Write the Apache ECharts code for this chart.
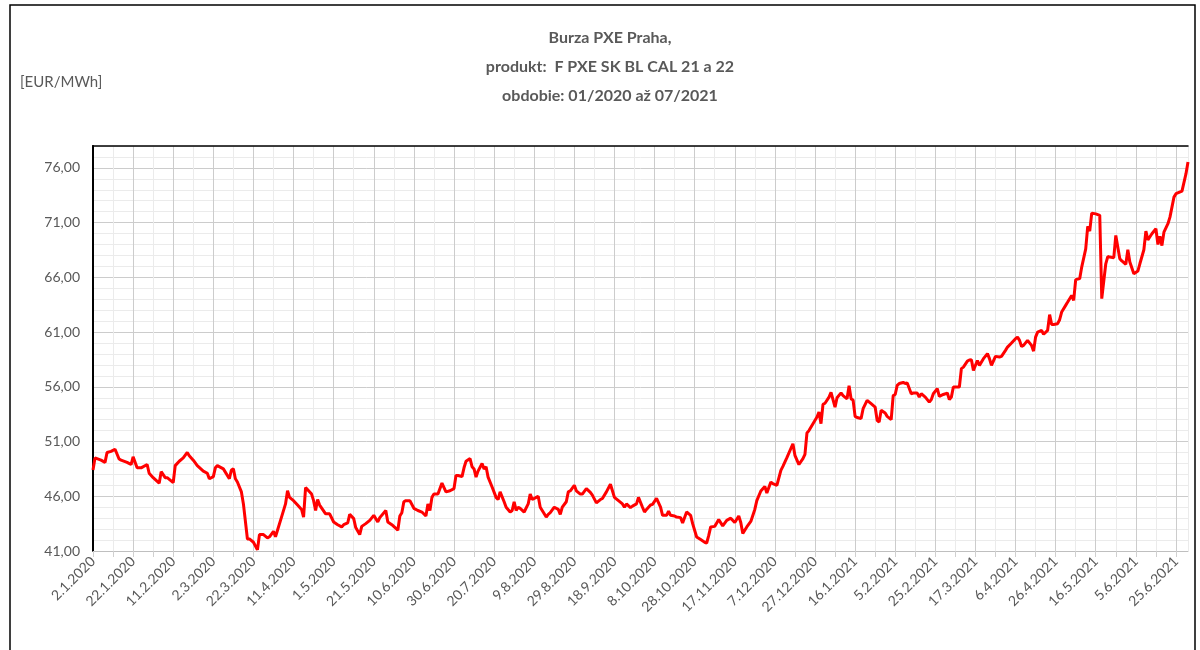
<!DOCTYPE html>
<html>
<head>
<meta charset="utf-8">
<script src="https://cdn.jsdelivr.net/npm/echarts@6/dist/echarts.min.js"></script>
<style>
html,body{margin:0;padding:0;background:#fff;}
#c{width:1200px;height:650px;}
</style>
</head>
<body>
<div id="c"></div>
<script>
// Start date of the x axis (day 0)
const START_DATE = '2020-01-02';
// Trading days, as days since START_DATE
const days = [0,1,4,6,7,9,11,13,14,17,19,20,22,24,27,28,30,33,34,36,37,40,41,43,45,47,48,50,52,55,57,58,60,61,62,65,68,69,70,71,72,74,75,77,78,80,82,83,85,87,88,90,91,92,94,96,97,98,100,102,104,105,106,109,110,111,112,113,116,118,120,122,124,125,127,128,130,131,133,134,136,138,140,142,143,146,147,149,152,153,154,155,156,158,160,162,164,166,167,168,169,170,172,174,176,178,180,181,182,184,185,186,188,189,190,191,192,194,195,196,197,199,201,202,203,205,206,208,209,210,211,212,213,215,217,218,219,221,222,223,224,226,227,228,230,232,233,234,236,237,238,240,241,243,244,246,248,249,251,253,254,256,258,259,260,262,264,265,266,268,269,271,272,274,275,276,278,279,281,283,284,286,287,288,290,291,293,294,296,298,299,301,303,305,306,307,308,310,311,312,314,316,318,320,322,323,324,326,328,330,331,333,335,336,338,339,341,343,344,346,349,350,352,354,355,356,357,359,361,362,363,364,365,367,368,370,371,373,374,376,377,378,379,380,381,383,384,386,388,390,391,392,393,395,396,398,399,400,401,402,404,405,406,408,409,411,412,413,415,417,418,419,421,422,424,426,427,428,429,431,432,433,434,436,437,438,439,441,442,444,446,447,448,450,452,453,455,456,458,460,461,462,463,464,466,468,469,470,471,473,474,476,477,478,479,481,482,483,485,486,488,489,490,492,493,495,496,497,498,500,502,503,505,506,507,509,510,512,513,515,516,517,519,521,522,524,525,526,528,530,531,532,533,534,536,537,539,540,543,545,546];
// Price F PXE SK BL CAL [EUR/MWh]
const prices = [48.4,49.5,49.3,49.1,50.0,50.1,50.3,49.4,49.3,49.1,48.9,49.6,48.6,48.6,48.9,48.1,47.7,47.2,48.25,47.7,47.7,47.25,48.8,49.2,49.5,50.0,49.7,49.3,48.8,48.3,48.1,47.6,47.8,48.6,48.8,48.5,47.6,48.4,48.5,47.6,47.3,46.4,45.3,42.1,42.1,41.8,41.1,42.5,42.5,42.2,42.3,42.8,42.3,42.9,44.1,45.3,46.5,45.9,45.6,45.2,44.8,44.1,46.8,46.2,45.6,44.7,45.7,45.2,44.4,44.4,43.65,43.4,43.2,43.4,43.56,44.35,43.96,43.14,42.5,43.25,43.5,43.8,44.26,43.65,44.05,44.7,43.65,43.4,42.9,44.2,44.5,45.5,45.6,45.6,44.9,44.7,44.56,44.2,45.3,44.7,45.9,46.2,46.2,47.2,46.4,46.5,46.7,47.9,47.9,47.8,48.6,49.2,49.44,48.7,48.5,47.75,48.3,49.0,48.5,48.7,47.75,46.85,45.9,45.7,46.4,45.5,45.0,44.56,44.7,45.5,44.7,45.0,44.9,44.56,45.3,46.2,45.7,45.9,46.0,45.0,44.7,44.1,44.35,44.5,45.0,44.8,44.35,45.0,45.5,46.4,46.5,47.0,46.5,46.2,46.2,46.7,46.35,46.1,45.4,45.7,45.8,46.4,47.1,46.5,45.9,45.6,45.3,45.0,45.3,44.96,45.1,45.3,45.9,45.0,44.56,44.8,45.2,45.26,45.8,45.0,44.26,44.26,44.65,44.26,44.2,44.1,44.05,43.56,44.56,44.26,43.5,42.28,42.04,41.8,41.73,42.4,43.2,43.25,43.56,43.87,43.3,43.8,44.0,43.6,44.2,43.6,42.6,43.2,43.7,44.8,45.6,46.48,46.9,46.3,47.3,47.15,47.0,48.37,48.73,49.53,50.8,49.74,48.9,49.44,49.83,51.78,52.0,52.63,53.24,53.7,52.63,54.4,54.5,55.06,55.5,54.15,55.0,55.45,55.2,54.9,56.1,54.9,54.8,53.3,53.2,53.1,54.0,54.76,54.46,54.15,52.94,52.78,53.85,53.6,53.3,53.0,55.2,55.3,56.13,56.3,56.4,56.3,56.35,55.37,55.43,55.43,55.06,55.37,55.06,54.6,54.83,55.37,55.83,55.13,55.3,55.43,54.83,55.06,55.98,55.98,55.98,57.66,57.8,58.35,58.45,58.48,57.5,58.4,57.96,58.57,59.03,58.57,57.96,58.78,58.72,58.78,59.33,59.63,60.0,60.4,60.54,60.24,59.69,59.78,60.24,59.78,59.26,60.54,61.0,61.15,60.8,61.15,62.6,61.7,61.7,61.77,62.13,62.83,63.44,63.74,64.35,63.9,65.79,65.88,66.94,68.6,70.66,70.22,71.87,71.8,71.66,64.05,67.24,67.9,67.85,67.8,69.83,67.7,67.5,67.2,68.53,67.4,66.33,66.57,67.24,68.52,70.22,69.43,69.98,70.44,69.0,69.74,68.9,70.13,70.9,71.5,73.33,73.64,73.88,75.47,76.53];

const titleLines = ['Burza PXE Praha,', 'produkt:  F PXE SK BL CAL 21 a 22', 'obdobie: 01/2020 až 07/2021'];
const unitLabel = '[EUR/MWh]';
const yMin = 41, yMax = 78, yMajor = 5;
const xMaxDay = 546, xMajorDays = 20;

const startMs = Date.parse(START_DATE + 'T00:00:00Z');
function dayToLabel(v) {
  const d = new Date(startMs + v * 86400000);
  return d.getUTCDate() + '.' + (d.getUTCMonth() + 1) + '.' + d.getUTCFullYear();
}
const FONT = "Lato, 'Open Sans', sans-serif";
const TITLE_FONT = "bold 16px Lato, sans-serif";
const GRAY = '#595959';

const chart = echarts.init(document.getElementById('c'), null, {renderer: 'canvas'});
chart.setOption({
  animation: false,
  backgroundColor: '#fff',
  textStyle: {fontFamily: FONT},
  graphic: [
    {type: 'rect', shape: {x: 10, y: 5, width: 1185, height: 700}, style: {fill: 'none', stroke: '#000', lineWidth: 1.5}, silent: true},
    {type: 'text', x: 20, y: 82, style: {text: unitLabel, fill: GRAY, font: "15px " + FONT, textVerticalAlign: 'middle'}},
    {type: 'text', x: 610, y: 38, style: {text: titleLines[0], fill: GRAY, font: TITLE_FONT, textAlign: 'center', textVerticalAlign: 'middle'}},
    {type: 'text', x: 610, y: 67, style: {text: titleLines[1], fill: GRAY, font: TITLE_FONT, textAlign: 'center', textVerticalAlign: 'middle'}},
    {type: 'text', x: 610, y: 96, style: {text: titleLines[2], fill: GRAY, font: TITLE_FONT, textAlign: 'center', textVerticalAlign: 'middle'}}
  ],
  grid: {left: 93, right: 12, top: 146, bottom: 99, containLabel: false},
  xAxis: [
    {
      type: 'value', min: 0, max: xMaxDay, interval: 10, position: 'bottom',
      axisLine: {show: true, lineStyle: {color: '#bfbfbf', width: 1}},
      axisTick: {show: true, length: 6, lineStyle: {color: '#d0d0d0'}},
      splitLine: {show: true, showMinLine: true, showMaxLine: true, lineStyle: {color: ['#cccccc', '#ebebeb'], width: 1}},
      axisLabel: {
        rotate: 45, margin: 8, color: GRAY, fontSize: 14, fontFamily: FONT,
        showMaxLabel: false,
        formatter: v => (v % xMajorDays === 0 && v <= xMaxDay - 6) ? dayToLabel(v) : ''
      }
    },
    {
      type: 'value', min: 0, max: xMaxDay, position: 'top',
      axisLine: {show: true, lineStyle: {color: '#000', width: 1.5}},
      axisTick: {show: false}, axisLabel: {show: false}, splitLine: {show: false}
    }
  ],
  yAxis: [
    {
      type: 'value', min: yMin, max: yMax, interval: 1, position: 'left',
      axisLine: {show: true, lineStyle: {color: '#000', width: 2}},
      axisTick: {show: false},
      splitLine: {show: true, showMinLine: true, showMaxLine: true, lineStyle: {color: ['#cccccc', '#ebebeb', '#ebebeb', '#ebebeb', '#ebebeb'], width: 1}},
      axisLabel: {
        margin: 13, color: GRAY, fontSize: 14, fontFamily: FONT,
        formatter: v => ((v - yMin) % yMajor === 0 && v < yMax) ? v.toFixed(2).replace('.', ',') : ''
      }
    },
    {
      type: 'value', min: yMin, max: yMax, position: 'right',
      axisLine: {show: true, lineStyle: {color: '#000', width: 1.5}},
      axisTick: {show: false}, axisLabel: {show: false}, splitLine: {show: false}
    }
  ],
  series: [{
    type: 'line',
    xAxisIndex: 0, yAxisIndex: 0,
    data: days.map((d, i) => [d, prices[i]]),
    showSymbol: false,
    lineStyle: {color: '#ff0000', width: 3},
    itemStyle: {color: '#ff0000'}
  }]
});
</script>
</body>
</html>
